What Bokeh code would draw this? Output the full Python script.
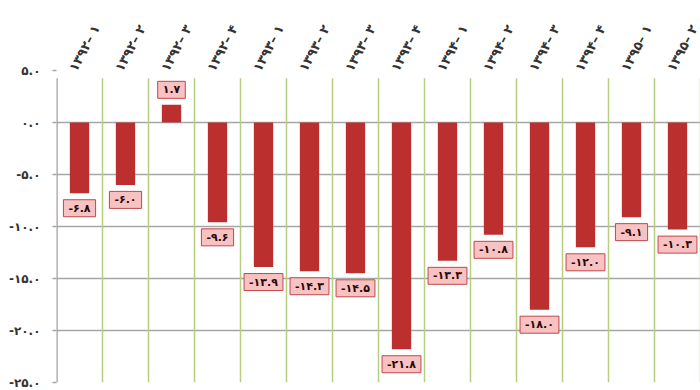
import math
from bokeh.plotting import figure
from bokeh.models import Range1d, FixedTicker
from bokeh.core.properties import value
from bokeh.embed import file_html
from bokeh.resources import INLINE

# ---- data ----
categories = ["۱۳۹۲– ۱", "۱۳۹۲– ۲", "۱۳۹۲– ۳", "۱۳۹۲– ۴",
              "۱۳۹۳– ۱", "۱۳۹۳– ۲", "۱۳۹۳– ۳", "۱۳۹۳– ۴",
              "۱۳۹۴– ۱", "۱۳۹۴– ۲", "۱۳۹۴– ۳", "۱۳۹۴– ۴",
              "۱۳۹۵– ۱", "۱۳۹۵– ۲"]
values = [-6.8, -6.0, 1.7, -9.6, -13.9, -14.3, -14.5, -21.8,
          -13.3, -10.8, -18.0, -12.0, -9.1, -10.3]
y_ticks = [5, 0, -5, -10, -15, -20, -25]
y_tick_labels = ["۵.۰", "۰.۰", "-۵.۰", "-۱۰.۰", "-۱۵.۰", "-۲۰.۰", "-۲۵.۰"]

FA = str.maketrans("0123456789", "۰۱۲۳۴۵۶۷۸۹")
def fa(v):
    return f"{v:.1f}".translate(FA)

n = len(categories)
xs = list(range(n))
labels = [fa(v) for v in values]
offsets = [15 if v < 0 else -15 for v in values]
boundaries = [i - 0.5 for i in range(n + 1)]
Y_MAX = 5
Y_MIN = -25
GRID_TOP = 4.25          # vertical lines stop a little under the top value
HEADER_PX = 70           # room above the value 5 for the slanted category labels
W, H, BOTTOM = 700, 390, 8
px_per_unit = (H - BOTTOM - HEADER_PX) / (Y_MAX - Y_MIN)
y_end = Y_MAX + HEADER_PX / px_per_unit

FONT = value("DejaVu Sans")

p = figure(width=W, height=H, output_backend="svg", toolbar_location=None,
           x_range=Range1d(-0.5, n - 0.5), y_range=Range1d(Y_MIN, y_end),
           x_axis_location=None, y_axis_location="left",
           min_border_left=56, min_border_right=0, min_border_top=0,
           min_border_bottom=BOTTOM)
p.outline_line_color = None
p.background_fill_color = "white"
p.border_fill_color = "white"

# grids
p.xgrid.visible = False
p.ygrid.ticker = FixedTicker(ticks=[t for t in y_ticks if t <= 0])
p.ygrid.grid_line_color = "#a6a6a6"
p.ygrid.grid_line_width = 1.5

# vertical separators (green) and the value axis line (gray)
p.segment(x0=boundaries[1:], y0=[Y_MIN] * n, x1=boundaries[1:], y1=[GRID_TOP] * n,
          line_color="#b9cd80", line_width=1.5)
p.segment(x0=[boundaries[0]], y0=[Y_MIN], x1=[boundaries[0]], y1=[GRID_TOP],
          line_color="#a0a0a0", line_width=2.5)

# y axis
ya = p.yaxis[0]
ya.ticker = FixedTicker(ticks=y_ticks)
ya.major_label_overrides = {t: l for t, l in zip(y_ticks, y_tick_labels)}
ya.axis_line_color = None
ya.major_tick_line_color = "#a6a6a6"
ya.major_tick_line_width = 1.5
ya.major_tick_in = 0
ya.major_tick_out = 4
ya.minor_tick_line_color = None
ya.major_label_standoff = 12
ya.major_label_text_font = "DejaVu Sans"
ya.major_label_text_font_style = "bold"
ya.major_label_text_font_size = "12px"
ya.major_label_text_color = "#333333"

# category labels above the bars, slanted
p.text(x=xs, y=[Y_MAX] * n, text=categories, angle=math.radians(62),
       x_offset=-7, y_offset=0, text_align="left", text_baseline="middle",
       text_font=FONT, text_font_style="bold", text_font_size="13px",
       text_color="#333333")

# bars
p.vbar(x=xs, top=values, bottom=0, width=0.42, fill_color="#bb302e", line_color=None)

# value labels
p.text(x=xs, y=values, text=labels, y_offset=offsets,
       text_align="center", text_baseline="middle",
       text_font=FONT, text_font_style="bold", text_font_size="11px",
       text_color="#2a0808",
       background_fill_color="#f8c2c2", border_line_color="#c04848",
       border_line_width=1, padding=(5, 2))

open("out.html", "w").write(file_html(p, INLINE))
